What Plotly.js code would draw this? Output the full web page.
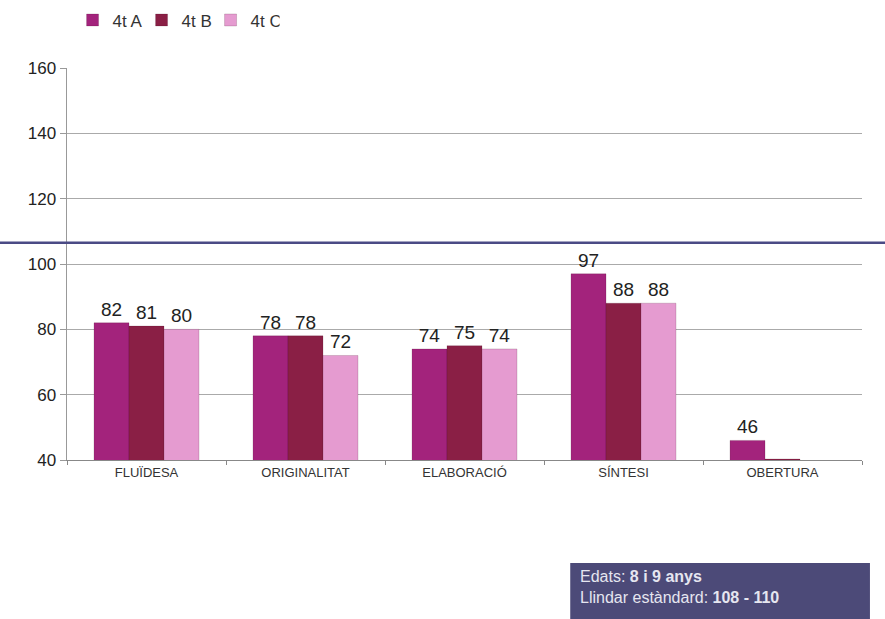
<!DOCTYPE html>
<html>
<head>
<meta charset="utf-8">
<script src="https://cdn.plot.ly/plotly-3.0.1.min.js"></script>
<style>html,body{margin:0;padding:0;background:#fff;}#chart{width:885px;height:619px;}</style>
</head>
<body>
<div id="chart"></div>
<script>
const categories = ["FLUÏDESA", "ORIGINALITAT", "ELABORACIÓ", "SÍNTESI", "OBERTURA"];
const seriesNames = ["4t A", "4t B", "4t C"];
const valuesA = [82, 78, 74, 97, 46];
const valuesB = [81, 78, 75, 88, 40.3];
const valuesC = [80, 72, 74, 88, null];
const labelsA = ["82", "78", "74", "97", "46"];
const labelsB = ["81", "78", "75", "88", ""];
const labelsC = ["80", "72", "74", "88", ""];
const thresholdValue = 106.5;
const yTicks = [40, 60, 80, 100, 120, 140, 160];
const infoLines = ["Edats: <b>8 i 9 anys</b>", "Llindar estàndard: <b>108 - 110</b>"];

const colors = ["#a3237c", "#8a1f45", "#e59bd0"];
const allValues = [valuesA, valuesB, valuesC];
const allLabels = [labelsA, labelsB, labelsC];

const traces = seriesNames.map((name, i) => ({
  type: "bar",
  name: name,
  x: categories,
  y: allValues[i],
  base: 0,
  text: allLabels[i],
  textposition: "outside",
  cliponaxis: false,
  textfont: {family: "Arial, Liberation Sans, sans-serif", size: 19, color: "#222"},
  marker: {color: colors[i], line: {color: "rgba(60,0,30,0.35)", width: 0.5}},
  hoverinfo: "x+y"
}));

const layout = {
  width: 885, height: 619,
  margin: {l: 67, r: 23, t: 68, b: 159},
  paper_bgcolor: "#fff",
  plot_bgcolor: "#fff",
  font: {family: "Arial, Liberation Sans, sans-serif", color: "#222"},
  barmode: "group",
  bargap: 0.34,
  bargroupgap: 0,
  showlegend: true,
  legend: {orientation: "h", xref: "container", yref: "container",
           x: 0.082, xanchor: "left", y: 0.967, yanchor: "middle",
           font: {size: 17, color: "#333"}, itemwidth: 30, traceorder: "normal",
           entrywidth: 24, entrywidthmode: "pixels",
           tracegroupgap: 0, bgcolor: "rgba(0,0,0,0)"},
  xaxis: {
    type: "category",
    showline: true, linecolor: "#888", linewidth: 1,
    ticks: "outside", tickson: "boundaries", ticklen: 4, tickcolor: "#888",
    tickfont: {size: 13, color: "#333"},
    showgrid: false
  },
  yaxis: {
    range: [40, 160],
    tickvals: yTicks,
    showline: true, linecolor: "#999", linewidth: 1.5,
    ticks: "outside", ticklen: 6, tickcolor: "#999",
    tickfont: {size: 17, color: "#222"},
    showgrid: true, gridcolor: "#aaa", gridwidth: 1,
    zeroline: false
  },
  shapes: [
    {type: "line", xref: "paper", yref: "y",
     x0: -0.09, x1: 1.03, y0: thresholdValue, y1: thresholdValue,
     line: {color: "#4a4a85", width: 2.5}, layer: "above"},
    {type: "rect", xref: "paper", yref: "paper",
     x0: 0.633, x1: 1.01, y0: -0.263, y1: -0.42,
     fillcolor: "#4c4a78", line: {width: 0}, layer: "above"}
  ],
  annotations: [{
    xref: "paper", yref: "paper",
    x: 0.643, xanchor: "left", y: -0.27, yanchor: "top",
    text: infoLines.join("<br>"),
    showarrow: false, align: "left",
    font: {family: "Arial, Liberation Sans, sans-serif", size: 16, color: "#e6e6f0"}
  }]
};

Plotly.newPlot("chart", traces, layout, {displayModeBar: false, staticPlot: true});
</script>
</body>
</html>
